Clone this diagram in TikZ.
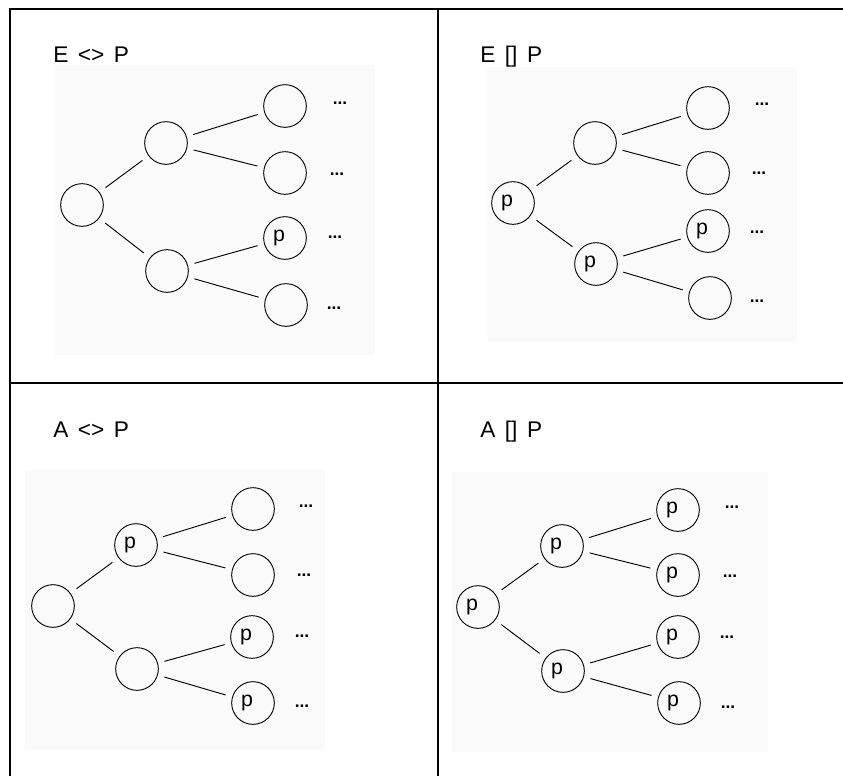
\documentclass[tikz,border=0pt]{standalone}
\usepackage{fontspec}
\setmainfont{Liberation Sans}
% heading type with slightly wider word gaps
\newcommand\headfont{\fontsize{17}{18}\selectfont\spaceskip=0.42em\relax}
\begin{document}
% one unit = one pixel of the 843 x 776 canvas, y pointing down
\begin{tikzpicture}[x=0.75pt,y=-0.75pt,
  frame/.style={line width=1.6pt,black},
  panelbg/.style={fill=gray!4,draw=none},
  state/.style={circle,draw,line width=0.7pt,minimum size=32pt,inner sep=0pt,
    font=\fontsize{16}{16}\selectfont},
  pstate/.style={state},
  title/.style={anchor=base west,inner sep=0pt,font=\headfont},
  more/.style={inner sep=0pt,anchor=center,font=\fontsize{13}{13}\selectfont\bfseries},
  edge/.style={line width=0.7pt,shorten >=5.6pt,shorten <=5.6pt},
  wide/.style={line width=0.7pt,shorten >=5pt,shorten <=5pt}]
\useasboundingbox (0,0) rectangle (843,776);
\fill[white] (0,0) rectangle (843,776);

% table rules
\draw[frame] (10,776) -- (10,9) -- (843,9);
\draw[frame] (438,9) -- (438,776);
\draw[frame] (10,383) -- (843,383);

% soft panels behind the trees
\fill[panelbg] (55,65) rectangle (375,355);
\fill[panelbg] (487,67) rectangle (797,342);
\fill[panelbg] (25,470) rectangle (325,750);
\fill[panelbg] (452,472) rectangle (768,752);

% ---------- E <> P ----------
\node[title] (t1) at (53,62) {E <> P};
\node[state] (a0) at (82,205) {};
\node[state] (a1) at (166,143) {};
\node[state] (a2) at (167,271) {};
\node[state] (a11) at (285,106) {};
\node[state] (a12) at (285,173) {};
\node[pstate] (a21) at (285,238) {p\kern9pt};
\node[state] (a22) at (286,305) {};
\node[more] (ad1) at (340,103) {...};
\node[more] (ad2) at (337,174) {...};
\node[more] (ad3) at (335,237) {...};
\node[more] (ad4) at (334,308) {...};
\draw[edge] (a0) -- (a1);
\draw[edge] (a0) -- (a2);
\draw[wide] (a1) -- (a11);
\draw[wide] (a1) -- (a12);
\draw[wide] (a2) -- (a21);
\draw[wide] (a2) -- (a22);

% ---------- E [] P ----------
\node[title] (t2) at (480,62) {E [] P};
\node[pstate] (b0) at (513,203) {p\kern9pt};
\node[state] (b1) at (595,143) {};
\node[pstate] (b2) at (596,264) {p\kern9pt};
\node[state] (b11) at (708,108) {};
\node[state] (b12) at (708,173) {};
\node[pstate] (b21) at (708,231) {p\kern9pt};
\node[state] (b22) at (710,298) {};
\node[more] (bd1) at (762,104) {...};
\node[more] (bd2) at (759,173) {...};
\node[more] (bd3) at (757,232) {...};
\node[more] (bd4) at (757,301) {...};
\draw[edge] (b0) -- (b1);
\draw[edge] (b0) -- (b2);
\draw[wide] (b1) -- (b11);
\draw[wide] (b1) -- (b12);
\draw[wide] (b2) -- (b21);
\draw[wide] (b2) -- (b22);

% ---------- A <> P ----------
\node[title] (t3) at (53,437) {A <> P};
\node[state] (c0) at (53,606) {};
\node[pstate] (c1) at (136,545) {p\kern9pt};
\node[state] (c2) at (137,669) {};
\node[state] (c11) at (253,509) {};
\node[state] (c12) at (253,575) {};
\node[pstate] (c21) at (252,637) {p\kern9pt};
\node[pstate] (c22) at (253,703) {p\kern9pt};
\node[more] (cd1) at (306,506) {...};
\node[more] (cd2) at (304,575) {...};
\node[more] (cd3) at (302,636) {...};
\node[more] (cd4) at (302,706) {...};
\draw[edge] (c0) -- (c1);
\draw[edge] (c0) -- (c2);
\draw[wide] (c1) -- (c11);
\draw[wide] (c1) -- (c12);
\draw[wide] (c2) -- (c21);
\draw[wide] (c2) -- (c22);

% ---------- A [] P ----------
\node[title] (t4) at (480,437) {A [] P};
\node[pstate] (d0) at (478,607) {p\kern9pt};
\node[pstate] (d1) at (562,546) {p\kern9pt};
\node[pstate] (d2) at (563,671) {p\kern9pt};
\node[pstate] (d11) at (678,510) {p\kern9pt};
\node[pstate] (d12) at (678,575) {p\kern9pt};
\node[pstate] (d21) at (678,637) {p\kern9pt};
\node[pstate] (d22) at (679,703) {p\kern9pt};
\node[more] (dd1) at (732,507) {...};
\node[more] (dd2) at (730,576) {...};
\node[more] (dd3) at (727,637) {...};
\node[more] (dd4) at (728,707) {...};
\draw[edge] (d0) -- (d1);
\draw[edge] (d0) -- (d2);
\draw[wide] (d1) -- (d11);
\draw[wide] (d1) -- (d12);
\draw[wide] (d2) -- (d21);
\draw[wide] (d2) -- (d22);
\end{tikzpicture}
\end{document}
